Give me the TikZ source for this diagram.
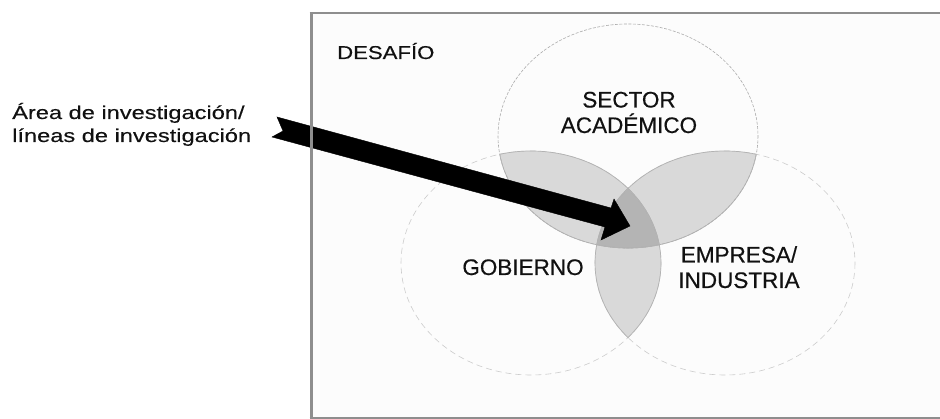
\documentclass[tikz,border=0pt]{standalone}
\usepackage{fontspec}
\setmainfont{Liberation Sans}[FakeBold=0.4]
\newfontfamily\wideA[FakeStretch=1.27,FakeBold=0.3]{Liberation Sans}
\newfontfamily\wideB[FakeStretch=1.19,FakeBold=0.3]{Liberation Sans}
\definecolor{boxbg}{HTML}{FCFCFC}
\definecolor{boxline}{HTML}{8E8E8E}
\definecolor{pairfill}{HTML}{D9D9D9}
\definecolor{triplefill}{HTML}{B4B4B4}
\definecolor{txt}{HTML}{111111}
\tikzset{
  outlineT/.style={draw=gray!65, line width=0.6pt, dash pattern=on 3pt off 1.5pt},
  outlineLR/.style={draw=gray!40, line width=0.6pt, dash pattern=on 6pt off 4pt},
  lensedge/.style={draw=gray!60, line width=0.7pt},
  bigtext/.style={font=\fontsize{22.5}{25.5}\selectfont, text=txt, inner sep=0pt, align=center},
  lefttext/.style={font=\wideA\fontsize{18.6}{23}\selectfont, text=txt, inner sep=0pt, align=left},
  fatarrow/.style={fill=black, draw=black, line width=0.4pt, line join=miter},
}
\begin{document}
\begin{tikzpicture}[x=1pt,y=-1pt]
\useasboundingbox (0,0) rectangle (940,419);
\fill[white] (0,0) rectangle (940,419);
% box background
\fill[boxbg] (311,13) rectangle (940,418);
% centres
\coordinate (cT) at (628,136);
\coordinate (cL) at (531,263);
\coordinate (cR) at (725,263);
\def\rx{130}\def\ry{112}
% pairwise overlaps
\begin{scope}
  \clip (cT) ellipse [x radius=\rx, y radius=\ry];
  \fill[pairfill] (cL) ellipse [x radius=\rx, y radius=\ry];
  \fill[pairfill] (cR) ellipse [x radius=\rx, y radius=\ry];
\end{scope}
\begin{scope}
  \clip (cL) ellipse [x radius=\rx, y radius=\ry];
  \fill[pairfill] (cR) ellipse [x radius=\rx, y radius=\ry];
\end{scope}
% triple overlap
\begin{scope}
  \clip (cT) ellipse [x radius=\rx, y radius=\ry];
  \clip (cL) ellipse [x radius=\rx, y radius=\ry];
  \fill[triplefill] (cR) ellipse [x radius=\rx, y radius=\ry];
\end{scope}
% outlines
\path[outlineT] (cT) ellipse [x radius=\rx, y radius=\ry];
\path[outlineLR] (cL) ellipse [x radius=\rx, y radius=\ry];
\path[outlineLR] (cR) ellipse [x radius=\rx, y radius=\ry];
\begin{scope}
  \clip (cT) ellipse [x radius=\rx, y radius=\ry];
  \path[lensedge] (cL) ellipse [x radius=\rx, y radius=\ry];
  \path[lensedge] (cR) ellipse [x radius=\rx, y radius=\ry];
\end{scope}
\begin{scope}
  \clip (cL) ellipse [x radius=\rx, y radius=\ry];
  \path[lensedge] (cT) ellipse [x radius=\rx, y radius=\ry];
  \path[lensedge] (cR) ellipse [x radius=\rx, y radius=\ry];
\end{scope}
\begin{scope}
  \clip (cR) ellipse [x radius=\rx, y radius=\ry];
  \path[lensedge] (cT) ellipse [x radius=\rx, y radius=\ry];
  \path[lensedge] (cL) ellipse [x radius=\rx, y radius=\ry];
\end{scope}
% arrow
\coordinate (aT1) at (277,117);
\coordinate (aU)  at (611,208);
\coordinate (aB1) at (614,199);
\coordinate (aTip) at (630,226);
\coordinate (aB2) at (601,240);
\coordinate (aL)  at (605,227);
\coordinate (aT2) at (272,137);
\coordinate (aN)  at (283,131);
\path[fatarrow] (aT1) -- (aU) -- (aB1) -- (aTip) -- (aB2) -- (aL) -- (aT2) -- (aN) -- cycle;
% box border
\draw[boxline, line width=3pt] (311,13) -- (311,418);
\draw[boxline, line width=2pt] (309.5,13) -- (940,13);
\draw[boxline, line width=2pt] (309.5,418) -- (940,418);
% texts (base anchor = baseline of the last line)
\node[lefttext, anchor=base west] (area) at (12,142) {Área de investigación/\\líneas de investigación};
\node[font=\wideB\fontsize{18.6}{22}\selectfont, text=txt, inner sep=0pt, anchor=base west] (desafio) at (337,59) {DESAFÍO};
\node[bigtext, anchor=base] (sector) at (629,133) {SECTOR\\ACADÉMICO};
\node[bigtext, anchor=base] (gob) at (523,275) {GOBIERNO};
\node[bigtext, anchor=base] (emp) at (739,288) {EMPRESA/\\INDUSTRIA};
\end{tikzpicture}
\end{document}
